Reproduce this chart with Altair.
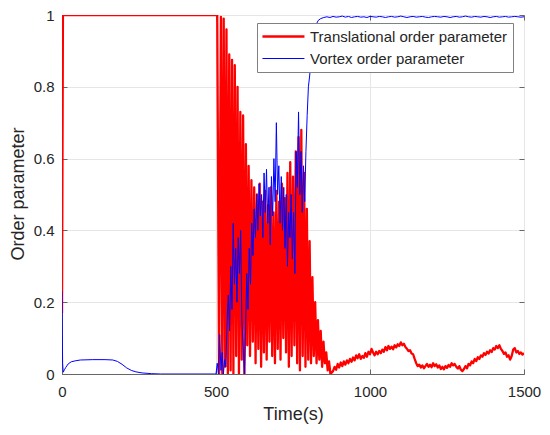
import altair as alt
import pandas as pd

# ---------------- data ----------------
series_names = ["Translational order parameter", "Vortex order parameter"]
line_colors = ["#ff0000", "#0000ff"]
line_widths = [2.3, 1.0]

x_ticks = [0, 500, 1000, 1500]
y_ticks = [0, 0.2, 0.4, 0.6, 0.8, 1]

# Translational order parameter (red)
red_head_t = [0, 3, 500, 504, 510]
red_head_v = [0.17, 1.0, 1.0, 1.0, 0.0]

red_osc_start = 516
red_osc_period = 9
red_peaks = [0.995, 0.99, 0.96, 0.89, 0.875, 0.86, 0.80, 0.73, 0.72, 0.64,
             0.58, 0.54, 0.52, 0.50, 0.53, 0.48, 0.51, 0.47, 0.52, 0.45,
             0.51, 0.48, 0.53, 0.49, 0.56, 0.59, 0.55, 0.62, 0.66, 0.68,
             0.56, 0.46, 0.37, 0.27, 0.20, 0.15, 0.12, 0.09, 0.06, 0.035]
red_troughs = [0.0, 0.02, 0.0, 0.01, 0.0, 0.05, 0.0, 0.04, 0.0, 0.08,
               0.05, 0.09, 0.03, 0.07, 0.02, 0.06, 0.04, 0.09, 0.05, 0.03,
               0.07, 0.04, 0.10, 0.06, 0.02, 0.05, 0.08, 0.03, 0.01, 0.05,
               0.02, 0.04, 0.03, 0.05, 0.03, 0.04, 0.02, 0.03, 0.01, 0.0]

red_tail_start = 880
red_tail_step = 5
red_tail = [0.008, 0.02, 0.012, 0.028, 0.018, 0.032, 0.022, 0.035, 0.026, 0.038,
            0.03, 0.042, 0.034, 0.046, 0.038, 0.052, 0.044, 0.055, 0.042, 0.05,
            0.045, 0.058, 0.048, 0.062, 0.055, 0.07, 0.06, 0.052, 0.062, 0.055,
            0.064, 0.058, 0.068, 0.062, 0.075, 0.066, 0.078, 0.07, 0.076, 0.069,
            0.08, 0.074, 0.083, 0.078, 0.088, 0.08, 0.084, 0.075, 0.07, 0.064,
            0.066, 0.057, 0.055, 0.042, 0.03, 0.022, 0.026, 0.018, 0.024, 0.016,
            0.022, 0.028, 0.02, 0.026, 0.019, 0.03, 0.022, 0.027, 0.018, 0.024,
            0.014, 0.02, 0.013, 0.022, 0.017, 0.025, 0.02, 0.03, 0.024, 0.028,
            0.02, 0.015, 0.022, 0.012, 0.008, 0.014, 0.022, 0.016, 0.028, 0.024,
            0.035, 0.03, 0.042, 0.036, 0.047, 0.042, 0.052, 0.048, 0.058, 0.053,
            0.062, 0.057, 0.066, 0.061, 0.072, 0.068, 0.078, 0.072, 0.08, 0.07,
            0.064, 0.056, 0.06, 0.048, 0.052, 0.04, 0.05, 0.068, 0.072, 0.06,
            0.064, 0.056, 0.06, 0.054, 0.058]

# Vortex order parameter (blue)
blue_head_t = [0, 1, 2, 4, 8, 12, 20, 30, 45, 60, 100, 140, 165, 180, 195,
               210, 225, 240, 260, 290, 320, 496]
blue_head_v = [0.23, 0.12, 0.03, 0.005, 0.012, 0.018, 0.028, 0.034, 0.037, 0.039,
               0.040, 0.040, 0.039, 0.035, 0.027, 0.017, 0.010, 0.006, 0.003, 0.001,
               0.0, 0.0]

blue_mid_start = 500
blue_mid_step = 4
blue_mid = [0.0, 0.03, 0.0, 0.11, 0.01, 0.06, 0.0, 0.04, 0.02, 0.15,
            0.22, 0.12, 0.30, 0.18, 0.42, 0.25, 0.35, 0.20, 0.38, 0.28,
            0.40, 0.15, 0.08, 0.00, 0.12, 0.28, 0.18, 0.35, 0.25, 0.42,
            0.33, 0.46, 0.38, 0.50, 0.40, 0.53, 0.44, 0.50, 0.38, 0.56,
            0.45, 0.57, 0.42, 0.52, 0.36, 0.55, 0.44, 0.60, 0.48, 0.70,
            0.50, 0.58, 0.42, 0.55, 0.40, 0.52, 0.35, 0.50, 0.30, 0.45,
            0.38, 0.50, 0.32, 0.45, 0.28, 0.62, 0.52, 0.73, 0.50, 0.62,
            0.45, 0.58, 0.48]

blue_rise_t = [792, 796, 800, 804, 808, 812, 816, 820, 826, 832, 840, 850]
blue_rise_v = [0.62, 0.72, 0.80, 0.83, 0.87, 0.92, 0.94, 0.96, 0.975, 0.985, 0.99, 0.993]

blue_tail_start = 860
blue_tail_step = 10
blue_tail = [0.995, 0.993, 0.996, 0.994, 0.995, 0.997, 0.994, 0.996, 0.993, 0.995,
             0.996, 0.994, 0.995, 0.993, 0.996, 0.995, 0.994, 0.996, 0.995, 0.993,
             0.995, 0.996, 0.994, 0.995, 0.997, 0.995, 0.993, 0.995, 0.996, 0.994,
             0.995, 0.996, 0.994, 0.993, 0.995, 0.996, 0.995, 0.994, 0.996, 0.995,
             0.993, 0.995, 0.996, 0.994, 0.995, 0.997, 0.995, 0.994, 0.996, 0.995,
             0.994, 0.996, 0.995, 0.993, 0.995, 0.996, 0.994, 0.995, 0.996, 0.994,
             0.995, 0.996, 0.995, 0.994, 0.995]

# ---------------- table ----------------
rows = []
for t, v in zip(red_head_t, red_head_v):
    rows.append((series_names[0], t, v))
for i, (p, tr) in enumerate(zip(red_peaks, red_troughs)):
    tp = red_osc_start + i * red_osc_period
    rows.append((series_names[0], tp, p))
    rows.append((series_names[0], tp + red_osc_period / 2, tr))
for i, v in enumerate(red_tail):
    rows.append((series_names[0], red_tail_start + i * red_tail_step, v))

for t, v in zip(blue_head_t, blue_head_v):
    rows.append((series_names[1], t, v))
for i, v in enumerate(blue_mid):
    rows.append((series_names[1], blue_mid_start + i * blue_mid_step, v))
for t, v in zip(blue_rise_t, blue_rise_v):
    rows.append((series_names[1], t, v))
for i, v in enumerate(blue_tail):
    rows.append((series_names[1], blue_tail_start + i * blue_tail_step, v))

df = pd.DataFrame(rows, columns=["series", "time", "value"])

# ---------------- chart ----------------
W, H = 462, 359
FONT = "Liberation Sans"
AX = "#666666"
TXT = "#262626"

xs = alt.Scale(domain=[0, 1500], nice=False, zero=False)
ys = alt.Scale(domain=[0, 1], nice=False)

legend_kw = dict(title=None, orient="none", legendX=195, legendY=8,
                 symbolType="M-1.15,0H4.85", symbolSize=196,
                 labelFontSize=15, labelFont=FONT, labelColor=TXT,
                 labelLimit=400, padding=5, rowPadding=6, labelOffset=31,
                 strokeColor="#808080", fillColor="#ffffff")

main = alt.Chart(df).mark_line(strokeJoin="round", clip=True).encode(
    x=alt.X("time:Q", scale=xs,
            axis=alt.Axis(values=x_ticks, format="d", title="Time(s)",
                          labelFontSize=15, titleFontSize=18, titleFontWeight="normal",
                          labelFont=FONT, titleFont=FONT, labelColor=TXT, titleColor=TXT,
                          labelPadding=10, labelFlush=False, ticks=False, grid=True,
                          gridColor="#e6e6e6", domainColor=AX, titleY=31,
                          titleBaseline="top")),
    y=alt.Y("value:Q", scale=ys,
            axis=alt.Axis(values=y_ticks, format="~g", title="Order parameter",
                          labelFontSize=15, titleFontSize=18, titleFontWeight="normal",
                          labelFont=FONT, titleFont=FONT, labelColor=TXT, titleColor=TXT,
                          labelPadding=8, labelFlush=False, ticks=False, grid=True,
                          gridColor="#e6e6e6", domainColor=AX, titleX=-44,
                          titleY=H / 2 - 1, titleAngle=270,
                          titleAlign="center", titleBaseline="middle")),
    color=alt.Color("series:N", scale=alt.Scale(domain=series_names, range=line_colors),
                    legend=alt.Legend(**legend_kw)),
    strokeWidth=alt.StrokeWidth("series:N",
                                scale=alt.Scale(domain=series_names, range=line_widths),
                                legend=alt.Legend(**legend_kw)),
    order=alt.Order("time:Q"),
)

tick_axis_kw = dict(labels=False, domain=False, grid=False, title=None,
                    ticks=True, tickSize=5, tickColor=AX)

ticks_a = alt.Chart(df).mark_line(opacity=0).encode(
    x=alt.X("time:Q", scale=xs, axis=alt.Axis(values=x_ticks, orient="top", offset=-H, **tick_axis_kw)),
    y=alt.Y("value:Q", scale=ys, axis=alt.Axis(values=y_ticks, orient="right", offset=-W, **tick_axis_kw)),
    detail="series:N",
)
ticks_b = alt.Chart(df).mark_line(opacity=0).encode(
    x=alt.X("time:Q", scale=xs, axis=alt.Axis(values=x_ticks, orient="bottom", offset=-H, **tick_axis_kw)),
    y=alt.Y("value:Q", scale=ys, axis=alt.Axis(values=y_ticks, orient="left", offset=-W, **tick_axis_kw)),
    detail="series:N",
)

chart = alt.layer(main, ticks_a, ticks_b).resolve_axis(
    x="independent", y="independent"
).properties(
    width=W, height=H,
    autosize=alt.AutoSizeParams(type="none"),
    padding={"left": 54, "top": 7, "right": 18, "bottom": 53},
    background="#ffffff",
).configure_view(stroke=AX, strokeWidth=1)

chart.save("out.html", embed_options={"renderer": "svg", "actions": False})
